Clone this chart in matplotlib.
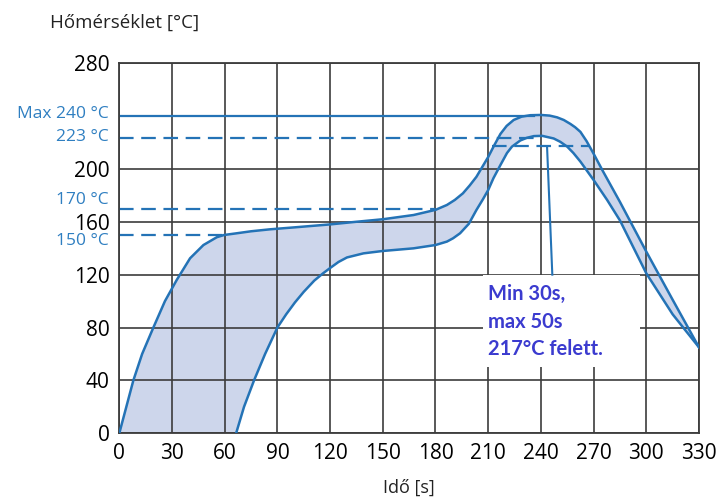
import matplotlib
matplotlib.use("Agg")
import matplotlib.pyplot as plt
from matplotlib.patches import Rectangle

plt.rcParams['lines.scale_dashes'] = False

# ---- data ----
x_ticks = [0, 30, 60, 90, 120, 150, 180, 210, 240, 270, 300, 330]
y_ticks = [0, 40, 80, 120, 160, 200, 280]

upper_t = [0, 4, 8, 13, 19.4, 26, 32.7, 40.3, 47.9, 55.5, 59.7, 66.9, 75, 85.9, 100, 120, 135,
           150, 167.5, 180, 186.5, 191, 195.6, 199.5, 203.3, 210, 213.5, 217, 220.5, 224.5, 229,
           234, 240, 245, 249.2, 253, 256.8, 259.5, 262.5, 266, 270, 275, 285, 300, 315, 330]
upper_T = [0, 20, 40, 60, 80, 100, 116, 132.4, 142.4, 148.3, 150, 151.3, 152.8, 154.3, 155.8, 158, 160,
           161.9, 165.1, 169, 172.7, 176.5, 181.5, 187.5, 194, 209, 218, 226.5, 232.5, 237, 239.5,
           240.6, 240.8, 240.3, 239, 237, 234, 231.5, 228, 221, 211.5, 199, 175, 137.4, 101, 65]

lower_t = [66.5, 71, 76.7, 83, 90, 95, 100, 105, 111, 116, 120, 124.8, 129.6, 139, 150, 167.5, 180,
           186.5, 190, 194, 199, 203.3, 207, 210, 213, 217, 220.7, 223.5, 228.3, 232, 236, 240.7,
           247.3, 251, 255, 258.5, 262.5, 266, 270, 277.7, 285, 300, 315, 330]
lower_T = [0, 20, 40, 60, 80, 90, 99, 107, 115.5, 121, 125, 129.6, 133, 136.1, 137.9, 139.9, 142.4,
           145, 147.5, 151.3, 158.5, 168.9, 177, 184, 193, 203, 212, 216.8, 221.5, 223.5, 224.8, 225,
           223, 220.5, 216.8, 212, 205.5, 199, 191.6, 176.5, 161, 121, 90, 65]

ref_levels = [240, 223, 170, 150]
ref_labels = ["Max 240 °C", "223 °C", "170 °C", "150 °C"]
ref_ends = [236, 238, 180, 60]
ref_styles = ["solid", "dashed", "dashed", "dashed"]
ref_label_shift = [2, 1.5, 9, -6]

tal_level = 217
tal_start, tal_end = 212, 268
note_text = "Min 30s,\nmax 50s\n217°C felett."

# ---- figure ----
fig = plt.figure(figsize=(7.23, 4.99), dpi=100)
ax = fig.add_axes([0.165, 0.1317, 0.8018, 0.7418])

BLUE = '#2473b6'
LBL = '#2f7fc1'
GRID = '#3c3c3c'

ax.set_xlim(0, 330)
ax.set_ylim(0, 280)
ax.set_xticks(x_ticks)
ax.set_yticks(y_ticks)
ax.set_axisbelow(True)
ax.grid(True, color=GRID, lw=1.2, zorder=0.5)
for s in ax.spines.values():
    s.set_color(GRID)
    s.set_linewidth(1.3)
ax.tick_params(length=0)
ax.tick_params(axis='y', pad=7, labelsize=15)
ax.tick_params(axis='x', pad=7, labelsize=15)
for lab in ax.get_yticklabels():
    lab.set_fontfamily(['Open Sans', 'DejaVu Sans'])
for lab in ax.get_xticklabels():
    lab.set_fontfamily(['Liberation Sans Narrow', 'Open Sans', 'DejaVu Sans'])

# band
poly_t = upper_t + lower_t[::-1]
poly_T = upper_T + lower_T[::-1]
ax.fill(poly_t, poly_T, color='#cdd6eb', zorder=0.2, lw=0)

# white box behind note
ax.add_patch(Rectangle((207.2, 50.2), 89.5, 69.5, facecolor='white', edgecolor='none', zorder=0.8))

ax.plot(upper_t, upper_T, color=BLUE, lw=1.8, zorder=3, solid_joinstyle='round')
ax.plot(lower_t, lower_T, color=BLUE, lw=1.8, zorder=3, solid_joinstyle='round')

# reference lines
for lvl, lab, end, st, sh in zip(ref_levels, ref_labels, ref_ends, ref_styles, ref_label_shift):
    if st == 'solid':
        ax.plot([0, end], [lvl, lvl], color=BLUE, lw=1.6, zorder=2)
    else:
        ax.plot([0, end], [lvl, lvl], color=BLUE, lw=1.6, zorder=2, dashes=(10.5, 5.5))
    ax.annotate(lab, xy=(0, lvl), xycoords=('axes fraction', 'data'),
                xytext=(-11, sh), textcoords='offset pixels', ha='right', va='center',
                fontsize=12.5, color=LBL, family=['Open Sans', 'DejaVu Sans'])

ax.plot([tal_start, tal_end], [tal_level, tal_level], color=BLUE, lw=1.6, zorder=2, dashes=(10.5, 5.5))
ax.plot([243.5, 246.5], [tal_level, 120], color=BLUE, lw=1.5, zorder=2)

ax.text(210, 84.5, note_text, ha='left', va='center', fontsize=14.5, fontweight='bold',
        color='#3b3bcf', family=['Lato', 'DejaVu Sans'], linespacing=1.45, zorder=4)

fig.text(50 / 723, 1 - 23 / 499, "Hőmérséklet [°C]", ha='left', va='center', fontsize=13.5,
         color='#222222', family=['Open Sans', 'DejaVu Sans'])
fig.text(409 / 723, 1 - 488 / 499, "Idő [s]", ha='center', va='center', fontsize=13,
         color='#222222', family=['Open Sans', 'DejaVu Sans'])

fig.savefig('out.png', dpi=100)
